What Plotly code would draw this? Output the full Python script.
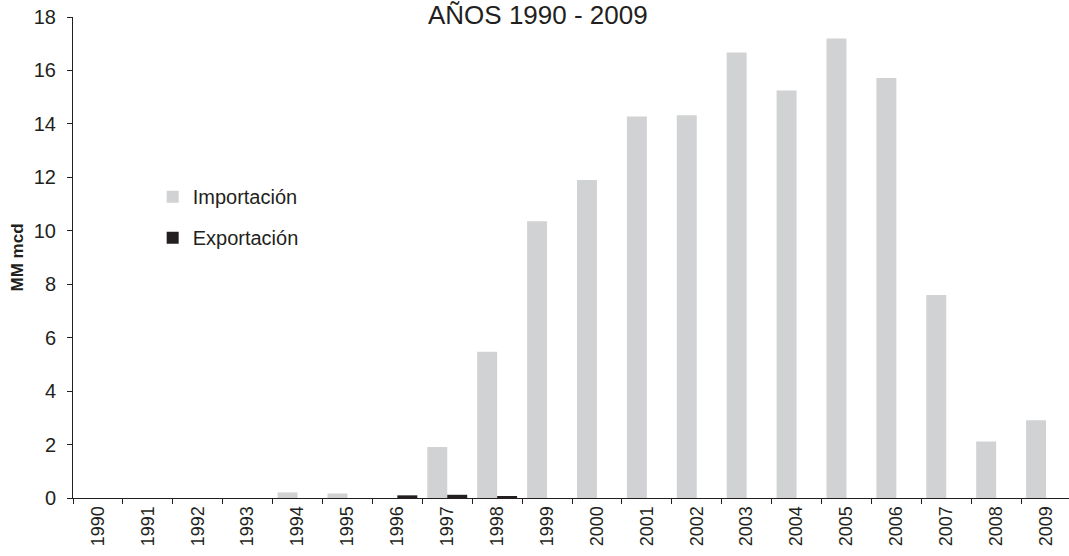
import plotly.graph_objects as go

years = [str(y) for y in range(1990, 2010)]
importacion = [0, 0, 0, 0, 0.21, 0.17, 0, 1.91, 5.47, 10.36, 11.9, 14.28, 14.32, 16.67,
               15.25, 17.2, 15.72, 7.6, 2.11, 2.91]
exportacion = [0, 0, 0, 0, 0, 0, 0.1, 0.12, 0.06, 0, 0, 0, 0, 0, 0, 0, 0, 0, 0, 0]

font_family = "Liberation Sans, Arial, sans-serif"

fig = go.Figure()
fig.add_trace(go.Bar(x=years, y=importacion, name="Importación",
                     marker=dict(color="#d1d2d4", line=dict(width=0)),
                     legendgroup="a"))
fig.add_trace(go.Bar(x=years, y=exportacion, name="Exportación",
                     marker=dict(color="#231f20", line=dict(width=0)),
                     legendgroup="b"))

fig.update_layout(
    width=1069, height=556,
    margin=dict(l=73, r=0, t=16.5, b=57.5, pad=0),
    plot_bgcolor="white", paper_bgcolor="white",
    barmode="group", bargap=0.2, bargroupgap=0,
    font=dict(family=font_family, color="#231f20", size=20),
    showlegend=True,
    legend=dict(x=0.080, y=0.667, xanchor="left", yanchor="top",
                bgcolor="rgba(0,0,0,0)", font=dict(size=20),
                tracegroupgap=12, traceorder="grouped"),
    xaxis=dict(type="category", range=[-0.5, 19.46],
               showline=True, linecolor="#231f20", linewidth=1,
               ticks="outside", tickson="boundaries", ticklen=5,
               tickcolor="#231f20", tickangle=-90,
               tickfont=dict(size=18), showgrid=False),
    yaxis=dict(range=[0, 18], dtick=2, showline=True, linecolor="#231f20",
               linewidth=1, ticks="outside", ticklen=5, tickcolor="#231f20",
               ticklabelstandoff=7,
               showgrid=False, zeroline=False, tickfont=dict(size=20),
               title=dict(text="<b>MM mcd</b>", font=dict(size=17), standoff=5)),
    annotations=[dict(text="AÑOS 1990 - 2009", xref="paper", yref="paper",
                      x=0.467, y=1.0, xanchor="center", yanchor="middle",
                      yshift=2, showarrow=False, font=dict(size=26))],
)

fig.write_html("out.html", config={"displayModeBar": False},
               post_script="document.body.style.margin='0';document.body.style.overflow='hidden';")
